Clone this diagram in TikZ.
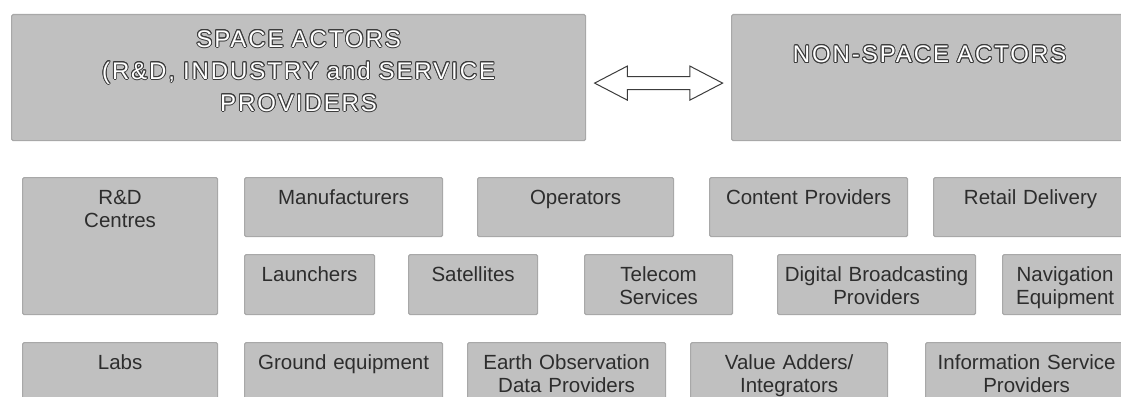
\documentclass[tikz,border=0pt]{standalone}
\usepackage{fontspec}
\setmainfont{Liberation Sans}
\newfontfamily\capsfont[LetterSpace=8]{Liberation Sans}
\usepackage{contour}
\contourlength{0.9pt}
\usetikzlibrary{shapes.arrows,calc}

\definecolor{boxgray}{RGB}{192,192,192}
\definecolor{boxedge}{RGB}{168,168,168}
\definecolor{inkgray}{RGB}{45,45,45}
\definecolor{outlgray}{RGB}{60,60,60}
\newcommand{\outl}[1]{\contour{outlgray}{#1}}

\tikzset{
  cell/.style={anchor=north west, fill=boxgray, draw=boxedge, line width=1.2pt,
    rounded corners=1.5pt, inner xsep=2pt, inner ysep=11.5pt, align=center,
    text height=15pt, text=inkgray, font=\fontsize{20.5}{23.5}\selectfont},
  bigcell/.style={cell, inner ysep=15pt, text height=17.5pt, text=white,
    font=\capsfont\fontsize{24}{32}\selectfont},
  rowa/.style={text depth=21pt}, % 59 high
  rowb/.style={text depth=22pt}, % 60 high
  rowc/.style={text depth=20pt}, % runs off the bottom
  blockarrow/.style={double arrow, draw=outlgray, fill=white, line width=1pt,
    inner sep=0pt, inner ysep=6pt, double arrow head extend=10.5pt,
    double arrow tip angle=55, minimum height=128pt, minimum width=33pt}
}

\begin{document}
\begin{tikzpicture}[x=1pt,y=-1pt]
    \useasboundingbox (0,0) rectangle (1121,396);

    % actors
    \node[bigcell, text width=570pt, text depth=78.5pt] at (11,14) (space){\outl{SPACE ACTORS}\\\outl{(R\&D, INDUSTRY and SERVICE}\\\outl{PROVIDERS}};
    \node[bigcell, inner ysep=30.5pt, text width=392pt, text depth=47.5pt] at (731,14) (nonspace){\outl{NON-SPACE ACTORS}};
    \node[blockarrow, yshift=-5.5pt] at ($(space.east)!0.5!(nonspace.west)$) (link){}; % space <-> non-space

    % first row
    \node[cell, text width=191pt, text depth=99pt] at (22,177) (rd){R\&D\\Centres};
    \node[cell, rowa, text width=194pt] at (244,177) (manuf){Manufacturers};
    \node[cell, rowa, text width=192pt] at (477,177) (oper){Operators};
    \node[cell, rowa, text width=194pt] at (709,177) (content){Content Providers};
    \node[cell, rowa, text width=190pt] at (933,177) (retail){Retail Delivery};

    % second row
    \node[cell, rowb, text width=126pt] at (244,254) (launch){Launchers};
    \node[cell, rowb, text width=125pt] at (408,254) (sat){Satellites};
    \node[cell, rowb, text width=144pt] at (584,254) (telecom){Telecom\\Services};
    \node[cell, rowb, text width=194pt] at (777,254) (digital){Digital Broadcasting\\Providers};
    \node[cell, rowb, text width=121pt] at (1002,254) (nav){Navigation\\Equipment};

    % third row
    \node[cell, rowc, text width=191pt] at (22,342) (labs){Labs};
    \node[cell, rowc, text width=194pt] at (244,342) (ground){Ground equipment};
    \node[cell, rowc, text width=194pt] at (467,342) (earth){Earth Observation\\Data Providers};
    \node[cell, rowc, text width=193pt] at (690,342) (value){Value Adders/\\Integrators};
    \node[cell, rowc, text width=198pt] at (925,342) (info){Information Service\\Providers};
\end{tikzpicture}
\end{document}
